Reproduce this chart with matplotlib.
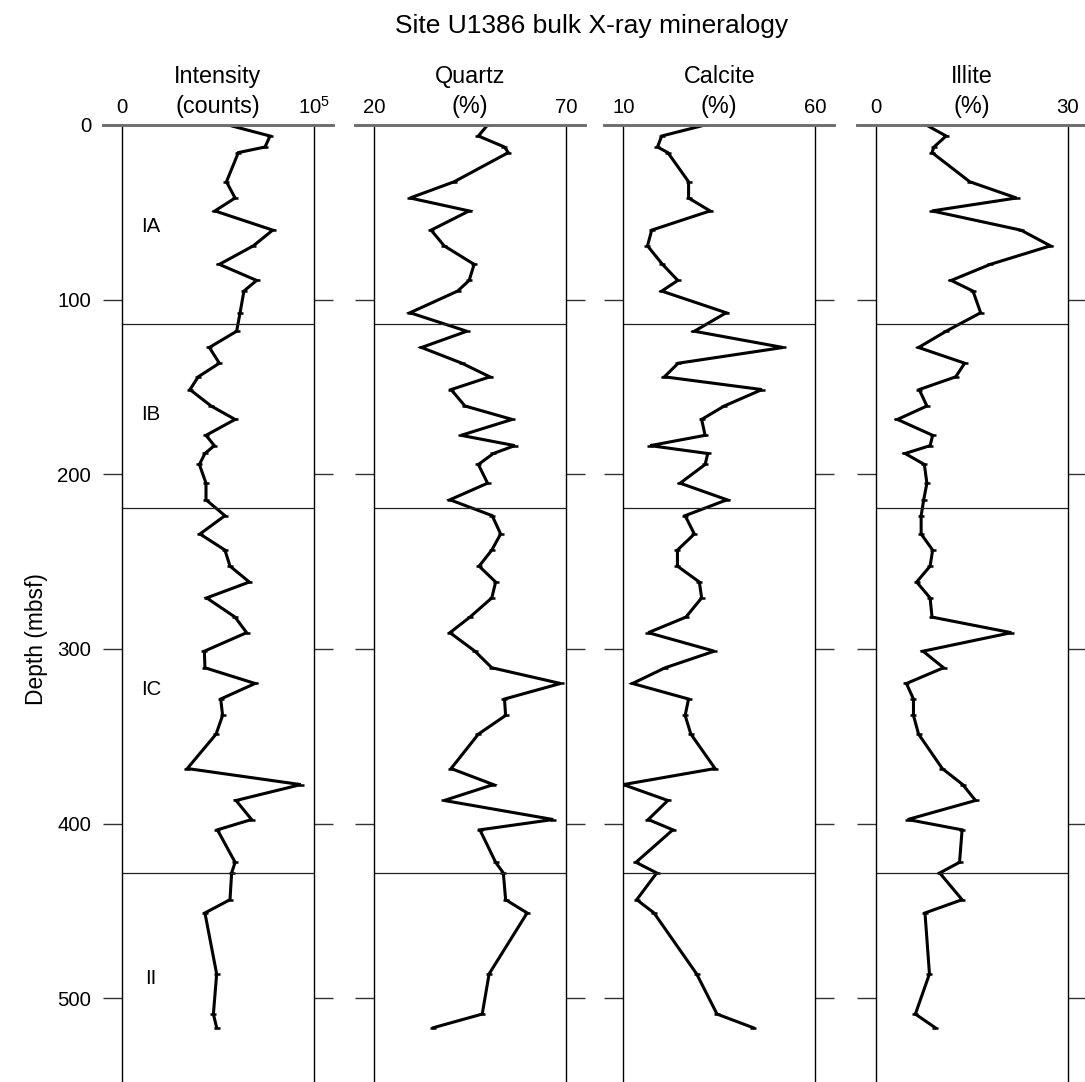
import numpy as np
from matplotlib import pyplot as plt

plt.rcParams['font.family'] = ['Liberation Sans', 'DejaVu Sans']
plt.rcParams['mathtext.default'] = 'regular'

# sample depths (mbsf), shared by all four logs
depth = [0, 6.3, 12.6, 15.8, 32.5, 41.8, 49.2, 60.2, 69.2, 79.8,
         89.0, 95.1, 107.5, 118.1, 127.4, 136.4, 144.2, 151.5, 160.9, 168.6,
         177.7, 183.6, 188.1, 194.4, 205.1, 214.6, 223.7, 234.2, 243.4, 252.6,
         261.7, 270.8, 281.8, 290.7, 301.3, 310.8, 319.8, 328.7, 338.1, 348.8,
         368.5, 377.7, 386.8, 397.7, 403.6, 422.2, 428.3, 443.6, 451.2, 486.1,
         509.1, 516.9]

intensity = [55300, 77100, 74500, 60600, 54400, 58900, 48400, 78500, 68400, 50700,
             70100, 63500, 61500, 59700, 45500, 50700, 39700, 35400, 46400, 58900,
             43750, 48100, 43200, 40300, 43750, 43750, 53600, 40600, 53600, 56250,
             66300, 44100, 58900, 64900, 42900, 43200, 69300, 51400, 52400, 49000,
             34000, 93100, 59400, 67500, 49700, 58900, 57100, 56250, 43200, 49300,
             47600, 49300]

quartz = [49.5, 47.1, 53.9, 54.9, 40.8, 29.3, 44.7, 34.8, 38.2, 46.0,
          44.7, 41.7, 29.3, 44.1, 32.3, 42.8, 50.1, 40.0, 43.6, 55.9,
          42.6, 56.6, 51.0, 47.1, 49.5, 39.7, 50.7, 52.9, 50.6, 47.3,
          51.6, 50.6, 44.9, 39.7, 46.2, 50.6, 68.5, 53.9, 54.2, 47.1,
          40.0, 51.0, 38.2, 66.6, 47.5, 51.6, 53.6, 54.2, 59.8, 49.9,
          48.1, 35.4]

calcite = [31.3, 20.0, 18.9, 21.6, 27.0, 27.0, 32.6, 17.4, 16.3, 20.2,
           24.2, 20.0, 36.8, 28.5, 51.6, 24.3, 20.7, 46.1, 36.3, 30.4,
           31.3, 17.0, 32.0, 31.3, 24.8, 37.0, 26.1, 28.5, 24.1, 24.1,
           29.8, 30.4, 26.3, 16.5, 33.7, 20.9, 12.4, 27.0, 26.1, 27.6,
           33.9, 10.0, 21.6, 16.5, 22.9, 13.3, 18.7, 13.5, 18.0, 29.1,
           34.4, 43.8]

illite = [7.9, 11.0, 9.1, 8.8, 14.7, 22.0, 8.8, 22.7, 27.3, 17.9,
          11.8, 15.2, 16.4, 11.0, 6.7, 13.9, 12.5, 6.8, 8.0, 3.4,
          8.9, 8.5, 4.6, 7.6, 8.0, 7.5, 7.1, 7.1, 8.9, 8.5,
          6.4, 8.5, 8.8, 21.2, 7.4, 10.6, 4.8, 5.9, 5.9, 6.7,
          10.4, 13.6, 15.6, 5.0, 13.5, 13.1, 10.0, 13.5, 7.7, 8.4,
          6.2, 9.3]

names = ['Intensity', 'Quartz', 'Calcite', 'Illite']
units = ['(counts)', '(%)', '(%)', '(%)']
xlims = [(0, 100000), (20, 70), (10, 60), (0, 30)]
xticklabels = [['0', '$10^5$'], ['20', '70'], ['10', '60'], ['0', '30']]

unit_bounds = [114.2, 219.4, 428.5]
unit_names = ['IA', 'IB', 'IC', 'II']
unit_label_depth = [58.2, 166, 323.2, 488.7]

depth_max = 548
W, H = 1085, 1082
lefts = [122, 374.3, 623.3, 875.7]
panel_w = 192
top_px = 125

fig = plt.figure(figsize=(W / 100, H / 100), dpi=100)
fig.text(591.5 / W, 1 - 33 / H, 'Site U1386 bulk X-ray mineralogy',
         ha='center', va='baseline', fontsize=19)
fig.text(36 / W, 1 - 639 / H, 'Depth (mbsf)', rotation=90,
         ha='center', va='center', fontsize=16.4)

series = [intensity, quartz, calcite, illite]
for i in range(4):
    ax = fig.add_axes([lefts[i] / W, 0, panel_w / W, 1 - top_px / H])
    ax.plot(series[i], depth, color='black', lw=2.2, marker='_', ms=5, mew=1.8,
            solid_joinstyle='miter')
    ax.set_xlim(*xlims[i])
    ax.set_ylim(depth_max, 0)
    for b in unit_bounds:
        ax.axhline(b, color='#222222', lw=0.9)
    ax.axhline(0, xmin=-0.099, xmax=1.099, color='#6e6e6e', lw=2.1,
               clip_on=False, zorder=5)

    for s in ['top', 'bottom']:
        ax.spines[s].set_visible(False)
    for s in ['left', 'right']:
        ax.spines[s].set_linewidth(1.0)
        ax.spines[s].set_color('black')

    ax.xaxis.tick_top()
    ax.set_xticks(xlims[i])
    ax.set_xticklabels(xticklabels[i])
    ax.tick_params(axis='x', length=0, pad=5.5, labelsize=14.7)

    ax.set_yticks([0, 100, 200, 300, 400, 500])
    ax.tick_params(axis='y', left=True, right=True, direction='out',
                   length=13.7, width=1.0, color='#333333',
                   labelleft=(i == 0), labelright=False,
                   labelsize=14.7, pad=8.6)

    ax.annotate(units[i], xy=(0.5, 1), xycoords='axes fraction',
                xytext=(0, 8.6), textcoords='offset points',
                ha='center', va='baseline', fontsize=16.8)
    ax.annotate(names[i], xy=(0.5, 1), xycoords='axes fraction',
                xytext=(0, 30.2), textcoords='offset points',
                ha='center', va='baseline', fontsize=16.8)

    if i == 0:
        for lab, d in zip(unit_names, unit_label_depth):
            ax.text(15200, d, lab, ha='center', va='center', fontsize=14.7)

fig.savefig('out.png', dpi=100)
